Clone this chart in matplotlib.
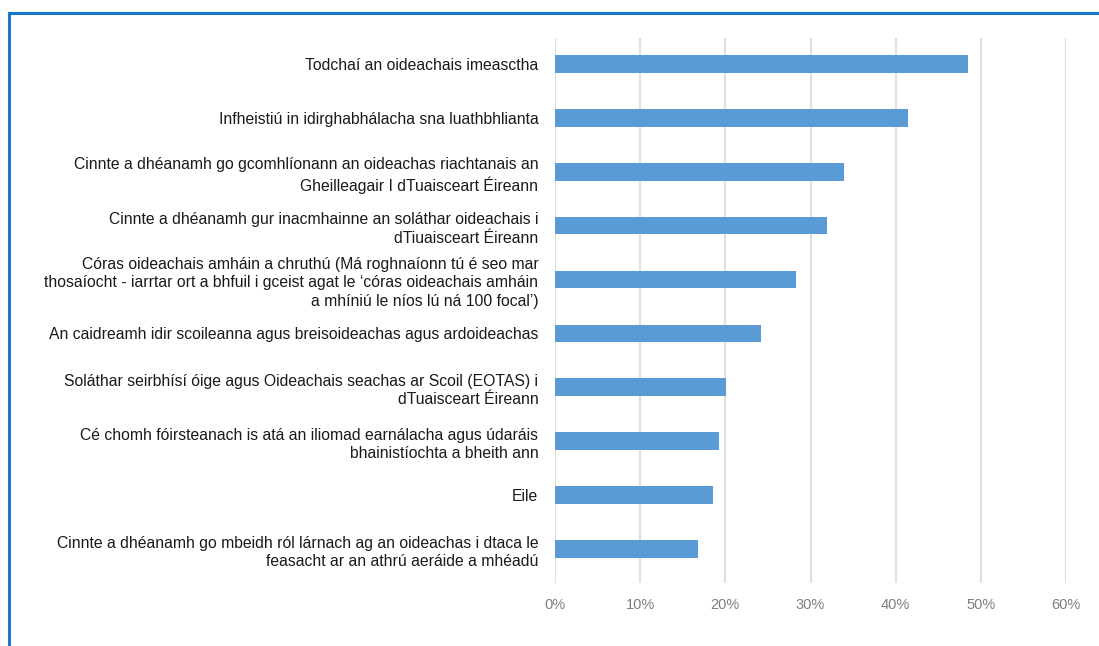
import matplotlib.pyplot as plt
from matplotlib.lines import Line2D
from matplotlib.ticker import PercentFormatter

plt.rcParams['font.family'] = ['Liberation Sans', 'DejaVu Sans']

labels = [
    "Todchaí an oideachais imeasctha",
    "Infheistiú in idirghabhálacha sna luathbhlianta",
    "Cinnte a dhéanamh go gcomhlíonann an oideachas riachtanais an\nGheilleagair I dTuaisceart Éireann",
    "Cinnte a dhéanamh gur inacmhainne an soláthar oideachais i\ndTiuaisceart Éireann",
    "Córas oideachais amháin a chruthú (Má roghnaíonn tú é seo mar\nthosaíocht - iarrtar ort a bhfuil i gceist agat le ‘córas oideachais amháin\na mhíniú le níos lú ná 100 focal’)",
    "An caidreamh idir scoileanna agus breisoideachas agus ardoideachas",
    "Soláthar seirbhísí óige agus Oideachais seachas ar Scoil (EOTAS) i\ndTuaisceart Éireann",
    "Cé chomh fóirsteanach is atá an iliomad earnálacha agus údaráis\nbhainistíochta a bheith ann",
    "Eile",
    "Cinnte a dhéanamh go mbeidh ról lárnach ag an oideachas i dtaca le\nfeasacht ar an athrú aeráide a mhéadú",
]
values = [0.485, 0.415, 0.339, 0.319, 0.283, 0.242, 0.201, 0.193, 0.185, 0.168]
xticks = [0, 0.1, 0.2, 0.3, 0.4, 0.5, 0.6]

W, H = 1099, 646
fig = plt.figure(figsize=(W / 100, H / 100), dpi=100)
ax = fig.add_axes([555 / W, 1 - 583 / H, (1066 - 555) / W, (583 - 38) / H])

pos = list(range(len(labels)))
ax.barh(pos, values, height=0.33, color="#5b9bd5", zorder=3)
ax.set_ylim(9.63, -0.48)
ax.set_xlim(0, 0.6)
ax.set_yticks(pos)
ax.set_yticklabels(labels, fontsize=11.3, color="#1a1a1a", linespacing=1.3)
ax.set_xticks(xticks)
ax.xaxis.set_major_formatter(PercentFormatter(1.0, decimals=0))
ax.tick_params(axis="x", length=0, pad=11, labelsize=10.5, labelcolor="#7f7f7f")
ax.tick_params(axis="y", length=0, pad=12)
ax.grid(axis="x", color="#e0e0e0", linewidth=1.6, zorder=0)
for s in ax.spines.values():
    s.set_visible(False)

# blue frame around the picture
frame = "#1b78c9"
fig.add_artist(Line2D([8.5 / W, 1], [1 - 13 / H, 1 - 13 / H], color=frame, lw=2.2))
fig.add_artist(Line2D([8.5 / W, 8.5 / W], [0, 1 - 13 / H], color=frame, lw=2.2))

fig.savefig("out.png", dpi=100)
